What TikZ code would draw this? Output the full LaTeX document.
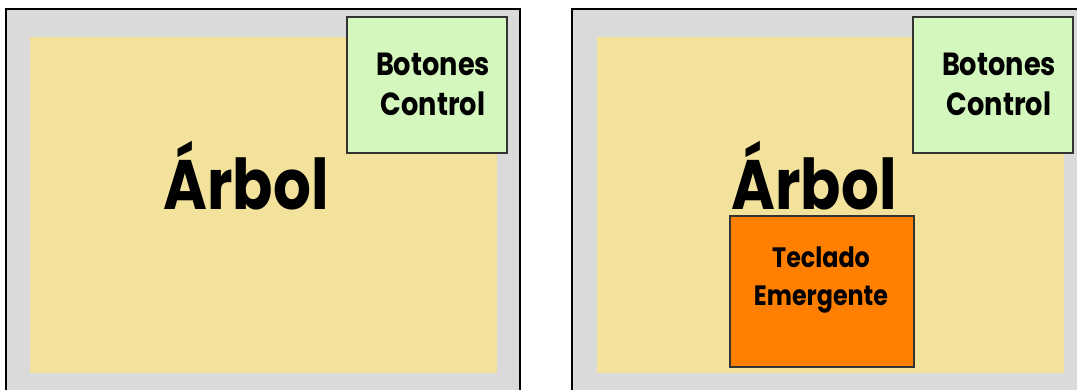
\documentclass[tikz,border=0pt]{standalone}
\usepackage{fontspec}
\setmainfont{Poppins}
\newfontfamily\panelfont[FakeStretch=0.85]{Poppins}
\definecolor{marco}{HTML}{DADADA}
\definecolor{arbol}{HTML}{F3E29C}
\definecolor{botones}{HTML}{D4F7BE}
\definecolor{teclado}{HTML}{FF8000}
\tikzset{
  panel/.style={draw=black,line width=2.4pt,fill=marco},
  zona/.style={fill=arbol},
  caja/.style={draw=black!80,line width=1.2pt},
  rotulo/.style={font=\panelfont\bfseries\fontsize{32}{40}\selectfont,align=center,inner sep=0pt},
  titulo/.style={font=\panelfont\bfseries\fontsize{70}{70}\selectfont,inner sep=0pt}
}
\begin{document}
\begin{tikzpicture}[x=1pt,y=-1pt]
\useasboundingbox (0,0) rectangle (1077,390);
\clip (0,0) rectangle (1077,390);
\draw[panel] (6,9) rectangle (520,400);
\fill[zona] (30,37) rectangle (497,373);
\draw[caja,fill=botones] (347,17) rectangle (507,153);
\node[titulo] (arbolA) at (246,176) {Árbol};
\node[rotulo] (botonesA) at (433,84) {Botones\\Control};
\draw[panel] (572,9) rectangle (1090,400);
\fill[zona] (597,37) rectangle (1064,373);
\draw[caja,fill=botones] (913,17) rectangle (1073,153);
\node[titulo] (arbolB) at (814,176) {Árbol};
\node[rotulo] (botonesB) at (999,84) {Botones\\Control};
\draw[caja,fill=teclado] (730,216) rectangle (914,367);
\node[rotulo,font=\panelfont\bfseries\fontsize{28}{38}\selectfont] (teclado) at (821,280) {Teclado\\Emergente};
\end{tikzpicture}
\end{document}
